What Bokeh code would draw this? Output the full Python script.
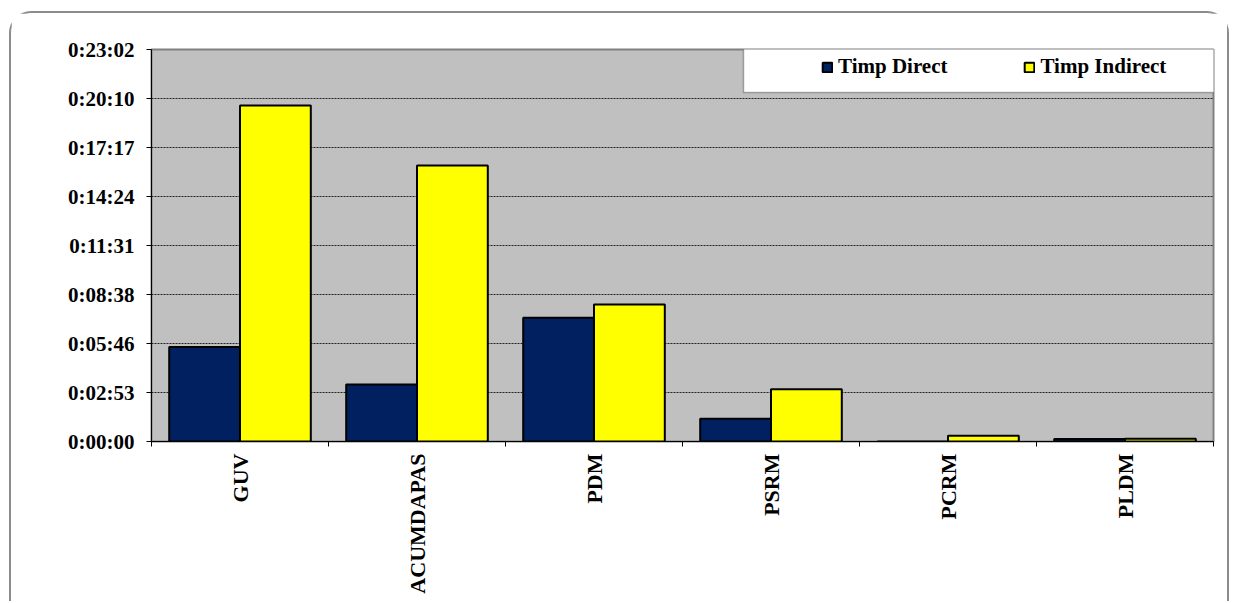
from bokeh.plotting import figure
from bokeh.models import (Range1d, FixedTicker, Legend, LegendItem, BoxAnnotation, ColumnDataSource)
from bokeh.embed import file_html
from bokeh.resources import INLINE
import numpy as np
import math

# ---- data ----
categories = ["GUV", "ACUMDAPAS", "PDM", "PSRM", "PCRM", "PLDM"]
# durations in seconds
timp_direct = [333, 201, 436, 80, 0, 9]
timp_indirect = [1185, 973, 483, 184, 20, 10]
tick_labels = ["0:00:00", "0:02:53", "0:05:46", "0:08:38", "0:11:31",
               "0:14:24", "0:17:17", "0:20:10", "0:23:02"]
tick_step_days = 0.002

SERIF = "Liberation Serif"

idx = np.arange(len(categories))
src = ColumnDataSource(dict(
    xd=idx + 0.3, xi=idx + 0.7,
    d=np.array(timp_direct) / 86400.0,
    i=np.array(timp_indirect) / 86400.0,
))

yticks = [k * tick_step_days for k in range(len(tick_labels))]

p = figure(width=1220, height=590, output_backend="svg", toolbar_location=None,
           x_range=Range1d(0, len(categories)), y_range=Range1d(0, yticks[-1]),
           min_border_left=140, min_border_right=18, min_border_top=36, min_border_bottom=162)
p.styles = {"border-top": "2px solid #8c8c8c", "border-left": "2px solid #8c8c8c",
            "border-right": "2px solid #8c8c8c",
            "border-top-left-radius": "22px", "border-top-right-radius": "22px",
            "margin-left": "9px", "margin-top": "11px"}

p.background_fill_color = "#c0c0c0"
p.border_fill_color = "white"
p.outline_line_color = "#808080"
p.outline_line_width = 2

rd = p.vbar(x="xd", top="d", width=0.4, source=src, fill_color="#002060",
            line_color="black", line_width=2)
ri = p.vbar(x="xi", top="i", width=0.4, source=src, fill_color="#ffff00",
            line_color="black", line_width=2)

# y axis
p.yaxis.ticker = FixedTicker(ticks=yticks, minor_ticks=[])
p.yaxis.major_label_overrides = {t: lab for t, lab in zip(yticks, tick_labels)}
p.yaxis.major_label_text_font = SERIF
p.yaxis.major_label_text_font_style = "bold"
p.yaxis.major_label_text_font_size = "21px"
p.yaxis.major_label_text_color = "black"
p.yaxis.major_tick_in = 0
p.yaxis.major_tick_out = 5
p.yaxis.major_tick_line_color = "black"
p.yaxis.axis_line_color = "black"
p.yaxis.major_label_standoff = 12

# x axis: labels at centers, ticks at category boundaries
centers = [k + 0.5 for k in range(len(categories))]
p.xaxis.ticker = FixedTicker(ticks=centers, minor_ticks=list(range(len(categories) + 1)))
p.xaxis.major_label_overrides = {c: lab for c, lab in zip(centers, categories)}
p.xaxis.major_label_orientation = math.pi / 2
p.xaxis.major_label_text_font = SERIF
p.xaxis.major_label_text_font_style = "bold"
p.xaxis.major_label_text_font_size = "22px"
p.xaxis.major_label_text_color = "black"
p.xaxis.major_tick_line_color = None
p.xaxis.minor_tick_in = 0
p.xaxis.minor_tick_out = 5
p.xaxis.minor_tick_line_color = "black"
p.xaxis.axis_line_color = "black"
p.xaxis.major_label_standoff = 6

# grid
p.xgrid.grid_line_color = None
p.ygrid.ticker = FixedTicker(ticks=yticks[1:])
p.ygrid.grid_line_color = "#222222"
p.ygrid.grid_line_dash = "2 1"
p.ygrid.grid_line_width = 1

# legend box
box = BoxAnnotation(left=592, right=1100, bottom=349, top=396,
                    left_units="screen", right_units="screen",
                    bottom_units="screen", top_units="screen",
                    fill_color="white", fill_alpha=1.0,
                    line_color="black", line_width=1.5, level="overlay")
p.add_layout(box)

legend = Legend(items=[LegendItem(label="Timp Direct", renderers=[rd]),
                       LegendItem(label="Timp Indirect", renderers=[ri])],
                orientation="horizontal", location=(670, 362),
                glyph_width=12, glyph_height=12, label_standoff=5, spacing=76,
                padding=0, margin=0,
                label_text_font=SERIF, label_text_font_style="bold",
                label_text_font_size="21px", label_text_color="black",
                border_line_color=None, background_fill_alpha=0)
legend.level = "overlay"
p.add_layout(legend)

open("out.html", "w").write(file_html(p, INLINE))
